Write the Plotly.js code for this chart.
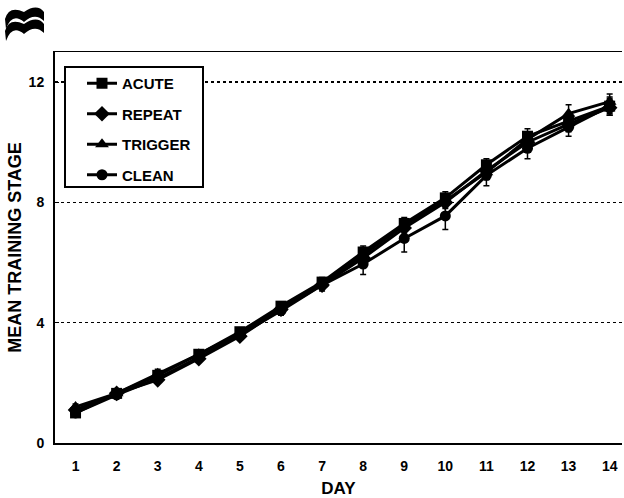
<!DOCTYPE html>
<html>
<head>
<meta charset="utf-8">
<script src="https://cdn.plot.ly/plotly-3.0.1.min.js"></script>
<style>html,body{margin:0;padding:0;background:#fff;}#chart{width:624px;height:498px;}</style>
</head>
<body>
<div id="chart"></div>
<script>
const days = [1,2,3,4,5,6,7,8,9,10,11,12,13,14];
const acute   = [1.0, 1.65, 2.25, 2.95, 3.7, 4.55, 5.35, 6.35, 7.3, 8.15, 9.25, 10.2, 10.7, 11.2];
const repeat  = [1.1, 1.65, 2.1, 2.8, 3.55, 4.45, 5.25, 6.15, 7.15, 8.0, 9.05, 10.0, 10.6, 11.15];
const trigger = [1.2, 1.65, 2.3, 2.95, 3.65, 4.5, 5.3, 6.25, 7.25, 8.05, 9.0, 10.1, 10.95, 11.35];
const clean   = [1.0, 1.6, 2.15, 2.85, 3.6, 4.4, 5.25, 5.95, 6.8, 7.55, 8.9, 9.8, 10.5, 11.2];
const acuteErr   = [0.1, 0.1, 0.1, 0.1, 0.1, 0.1, 0.15, 0.2, 0.2, 0.2, 0.2, 0.25, 0.25, 0.25];
const repeatErr  = [0.1, 0.1, 0.1, 0.1, 0.1, 0.1, 0.15, 0.2, 0.2, 0.2, 0.2, 0.25, 0.25, 0.25];
const triggerErr = [0.1, 0.1, 0.15, 0.15, 0.1, 0.1, 0.15, 0.2, 0.2, 0.2, 0.25, 0.25, 0.3, 0.25];
const cleanErr   = [0.1, 0.1, 0.15, 0.15, 0.1, 0.15, 0.2, 0.35, 0.45, 0.45, 0.35, 0.35, 0.3, 0.3];
const names = ['ACUTE','REPEAT','TRIGGER','CLEAN'];
const yTicks = [0,4,8,12];

const series = [acute, repeat, trigger, clean];
const errs = [acuteErr, repeatErr, triggerErr, cleanErr];
const symbols = ['square','diamond','triangle-up','circle'];
const sizes = [11, 12, 12, 11];

const traces = series.map((s,i)=>({
  x: days, y: s, name: names[i], type:'scatter', mode:'lines+markers',
  legendgroup: 'g'+i,
  line:{color:'#000', width:3},
  marker:{symbol:symbols[i], size:sizes[i], color:'#000'},
  error_y:{type:'data', array:errs[i], visible:true, color:'#000', thickness:1.5, width:3}
}));

// plot area in px
const L=55, R=622, T=52, B=443;
function px2x(px){ return (px-L)/(R-L); }
function px2y(py){ return (B-py)/(B-T); }
function P(px,py){ return px2x(px).toFixed(4)+','+px2y(py).toFixed(4); }
const logo1 = 'M'+P(5,19)+' Q'+P(9,5)+' '+P(24,12)+' Q'+P(37,3)+' '+P(44,12)+' L'+P(44,21)+' Q'+P(35,12)+' '+P(24,22)+' Q'+P(12,12)+' '+P(6,29)+' Z';
const logo2 = 'M'+P(5,31)+' Q'+P(9,17)+' '+P(24,24)+' Q'+P(37,15)+' '+P(44,24)+' L'+P(44,33)+' Q'+P(35,24)+' '+P(24,34)+' Q'+P(12,24)+' '+P(6,41)+' Z';

const fam = '"Liberation Sans", Arial, sans-serif';
const font = {family:fam, color:'#000', size:14, weight:'bold'};

const layout = {
  width:624, height:498,
  margin:{l:L, r:624-R, t:T, b:498-B},
  paper_bgcolor:'#fff', plot_bgcolor:'#fff',
  font: font,
  showlegend:true,
  xaxis:{
    range:[0.5,14.3], tickvals:days, ticktext:days.map(String),
    showline:true, linecolor:'#000', linewidth:2, mirror:false,
    showgrid:false, zeroline:false, ticks:'', ticklabelstandoff:9,
    tickfont:{family:fam, size:14, weight:'bold', color:'#000'},
    title:{text:'DAY', font:{family:fam, size:17, weight:'bold', color:'#000'}, standoff:9},
    automargin:false
  },
  xaxis2:{overlaying:'x', side:'top', range:[0.5,14.3], showline:true, linecolor:'#000', linewidth:1.5, showticklabels:false, ticks:'', showgrid:false, zeroline:false},
  yaxis:{
    range:[0,13], tickvals:yTicks, ticktext:yTicks.map(String),
    showline:true, linecolor:'#000', linewidth:2,
    showgrid:true, gridcolor:'#000', griddash:'dot', gridwidth:1.2,
    zeroline:false, ticks:'inside', ticklen:4, tickcolor:'#000', ticklabelstandoff:6,
    tickfont:{family:fam, size:14, weight:'bold', color:'#000'},
    title:{text:'MEAN TRAINING STAGE', font:{family:fam, size:18, weight:'bold', color:'#000'}, standoff:2},
    automargin:false
  },
  legend:{
    x:px2x(82), y:px2y(67), xanchor:'left', yanchor:'top',
    borderwidth:0, bgcolor:'rgba(0,0,0,0)',
    font:{family:fam, size:15, weight:'bold', color:'#000'},
    traceorder:'grouped', tracegroupgap:8, itemwidth:30
  },
  shapes:[
    {type:'rect', xref:'paper', yref:'paper', x0:px2x(65), x1:px2x(203), y0:px2y(67), y1:px2y(187), line:{color:'#000', width:2}, fillcolor:'#fff', layer:'above'},
    {type:'path', xref:'paper', yref:'paper', path:logo1, fillcolor:'#000', line:{width:0}},
    {type:'path', xref:'paper', yref:'paper', path:logo2, fillcolor:'#000', line:{width:0}}
  ]
};
traces.push({x:[1], y:[0], xaxis:'x2', yaxis:'y', mode:'markers', marker:{opacity:0}, showlegend:false, hoverinfo:'skip'});

Plotly.newPlot('chart', traces, layout, {displayModeBar:false, staticPlot:true});
</script>
</body>
</html>
